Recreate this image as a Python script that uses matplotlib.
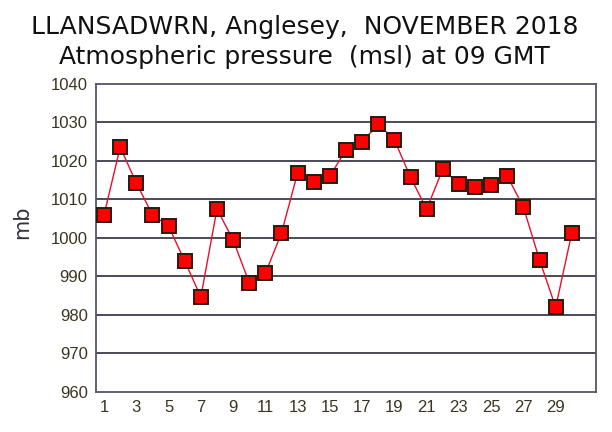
import matplotlib
matplotlib.use("Agg")
import matplotlib.pyplot as plt

# daily values, November 2018
days = list(range(1, 31))
pressure = [1006.0, 1023.6, 1014.3, 1006.0, 1003.1, 994.0, 984.7, 1007.5, 999.5, 988.4,
            990.8, 1001.3, 1016.9, 1014.5, 1016.1, 1022.9, 1024.9, 1029.6, 1025.5, 1015.8,
            1007.5, 1017.9, 1014.0, 1013.2, 1013.8, 1016.1, 1008.0, 994.3, 982.0, 1001.3]
yticks = list(range(960, 1041, 10))
xticks = list(range(1, 30, 2))

fig = plt.figure(figsize=(6.12, 4.32), dpi=100)
ax = fig.add_axes([96/612, 40/432, 500/612, 308/432])

for v in yticks[1:-1]:
    ax.axhline(v, color='#3c3c4c', lw=1.3, zorder=1)

ax.plot(days, pressure, color='#e8102a', lw=1.0, zorder=2)
ax.plot(days, pressure, ls='none', marker='s', ms=10, mfc='#ff0000',
        mec='#2a1a10', mew=1.4, zorder=3)

ax.set_xlim(0.5, 31.5)
ax.set_ylim(960, 1040)
ax.set_xticks(xticks)
ax.set_yticks(yticks)
ax.tick_params(length=0, pad=6, labelsize=12, labelcolor='#3a3420')
for lab in ax.get_xticklabels() + ax.get_yticklabels():
    lab.set_family('Liberation Sans')
for s in ax.spines.values():
    s.set_color('#55556a')
    s.set_linewidth(1.3)

fig.text(305/612, 1 - 34/432, 'LLANSADWRN, Anglesey,  NOVEMBER 2018',
         ha='center', va='baseline', fontsize=18, family='DejaVu Sans', color='#111111')
fig.text(304/612, 1 - 64/432, 'Atmospheric pressure  (msl) at 09 GMT',
         ha='center', va='baseline', fontsize=18, family='DejaVu Sans', color='#111111')
fig.text(22/612, 1 - 222/432, 'mb', rotation=90, ha='center', va='center',
         fontsize=15, color='#333340', family='DejaVu Sans')

fig.savefig('out.png', dpi=100)
